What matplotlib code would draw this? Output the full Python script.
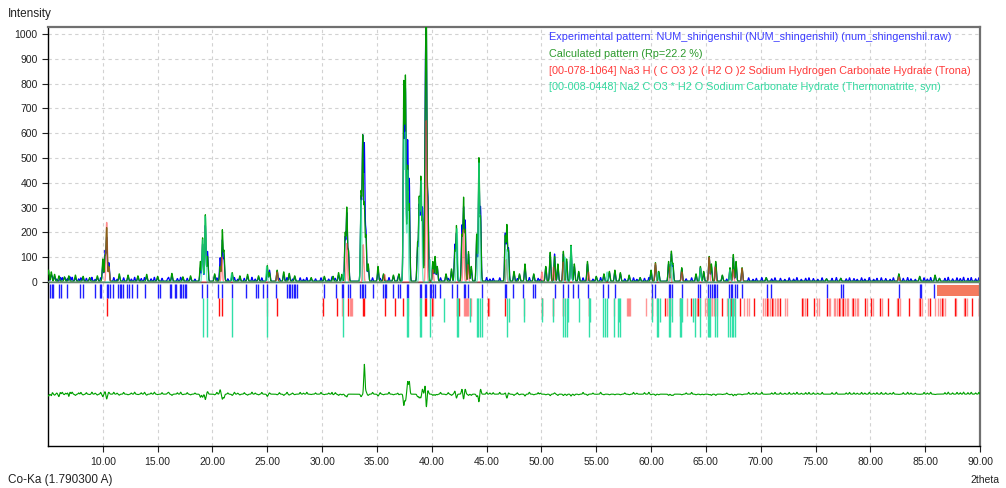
import numpy as np
import matplotlib.pyplot as plt

plt.rcParams['font.family'] = ['Liberation Sans', 'DejaVu Sans']

# calculated pattern (2theta, counts)
calc_peaks = [
    (5.05, 45), (5.3, 38), (5.6, 28), (6.0, 22), (6.5, 18), (6.9, 22), (7.5, 25), (8.2, 20),
    (8.8, 15), (9.5, 22), (10.0, 90), (10.2, 100), (10.35, 214), (10.55, 60),
    (11.5, 30), (12.3, 25), (13.2, 22), (14.0, 28), (15.0, 20), (16.3, 32), (17.3, 18), (18.0, 22),
    (18.9, 80), (19.1, 175), (19.35, 268), (19.55, 100), (20.2, 30),
    (20.7, 60), (20.9, 205), (21.05, 120), (21.8, 35), (22.5, 22), (23.2, 28), (24.2, 22),
    (25.0, 63), (25.2, 35), (25.9, 45), (26.5, 38), (27.0, 32), (27.5, 22), (29.0, 15),
    (30.2, 20), (31.0, 20), (31.5, 35), (31.8, 28), (32.1, 190), (32.25, 292), (32.4, 120),
    (33.55, 350), (33.7, 575), (33.85, 300), (34.0, 180), (34.2, 70), (35.1, 60), (35.6, 30),
    (36.5, 25), (37.0, 30), (37.45, 790), (37.6, 812), (37.8, 460), (37.95, 300),
    (38.7, 150), (38.85, 330), (39.0, 410), (39.15, 250), (39.4, 520), (39.5, 1045), (39.65, 300),
    (40.1, 80), (40.3, 100), (40.5, 60), (41.3, 30), (41.8, 50), (42.1, 120), (42.25, 222),
    (42.75, 180), (42.9, 330), (43.05, 200), (43.35, 120), (43.6, 60),
    (44.1, 190), (44.3, 492), (44.45, 250), (46.7, 180), (46.85, 222), (47.0, 120),
    (47.5, 40), (48.0, 30), (48.5, 70), (49.3, 30), (50.4, 60), (50.8, 117), (51.2, 100),
    (51.5, 70), (52.0, 121), (52.3, 90), (52.7, 145), (53.0, 70), (53.4, 40), (54.2, 80),
    (55.0, 20), (55.7, 30), (56.2, 40), (56.7, 45), (57.2, 35), (58.0, 25), (59.0, 15),
    (60.0, 45), (60.4, 75), (60.7, 40), (61.6, 80), (61.85, 120), (62.0, 70), (62.8, 55),
    (64.1, 30), (64.5, 60), (64.8, 40), (65.3, 100), (65.5, 70), (65.9, 80), (66.5, 25),
    (67.2, 55), (67.5, 108), (67.75, 80), (68.3, 55), (70.5, 15), (76.0, 10), (77.3, 12),
    (82.6, 30), (84.5, 20), (85.9, 25), (86.3, 12),
]

# measured pattern (2theta, counts)
exp_peaks = [
    (5.05, 30), (5.3, 25), (5.6, 20), (6.1, 16), (6.5, 14), (7.0, 18), (7.5, 15), (8.2, 14),
    (8.8, 12), (9.5, 15), (10.0, 70), (10.2, 120), (10.35, 175), (10.55, 75),
    (11.5, 22), (12.3, 20), (13.2, 18), (14.0, 20), (15.0, 16), (16.3, 22), (17.3, 14), (18.0, 16),
    (18.9, 55), (19.1, 150), (19.35, 225), (19.55, 120), (20.2, 25),
    (20.7, 95), (20.9, 165), (21.05, 90), (21.8, 25), (22.5, 16), (23.2, 20), (24.2, 16),
    (25.0, 45), (25.2, 45), (25.9, 40), (26.5, 28), (27.0, 25), (27.5, 18), (29.0, 12),
    (30.2, 16), (31.0, 15), (31.5, 25), (31.8, 22), (32.1, 175), (32.25, 270), (32.4, 120),
    (33.55, 330), (33.7, 570), (33.85, 540), (34.0, 200), (34.2, 60), (35.1, 45), (35.6, 25),
    (36.5, 20), (37.0, 25), (37.45, 700), (37.6, 760), (37.8, 560), (37.95, 400),
    (38.7, 130), (38.85, 300), (39.0, 380), (39.15, 290), (39.4, 600), (39.5, 930), (39.65, 330),
    (40.1, 70), (40.3, 90), (40.5, 55), (41.3, 25), (41.8, 40), (42.1, 145), (42.25, 190),
    (42.75, 220), (42.9, 290), (43.05, 240), (43.35, 110), (43.6, 50),
    (44.1, 170), (44.3, 430), (44.45, 290), (46.7, 190), (46.85, 190), (47.0, 130),
    (47.5, 30), (48.0, 25), (48.5, 55), (49.3, 25), (50.4, 55), (50.8, 105), (51.2, 110),
    (51.5, 60), (52.0, 110), (52.3, 80), (52.7, 130), (53.0, 60), (53.4, 35), (54.2, 70),
    (55.0, 18), (55.7, 25), (56.2, 35), (56.7, 40), (57.2, 30), (58.0, 20), (59.0, 14),
    (60.0, 40), (60.4, 65), (60.7, 35), (61.6, 70), (61.85, 110), (62.0, 60), (62.8, 50),
    (64.1, 25), (64.5, 55), (64.8, 35), (65.3, 95), (65.5, 60), (65.9, 70), (66.5, 22),
    (67.2, 50), (67.5, 95), (67.75, 70), (68.3, 50), (70.5, 14), (76.0, 10), (77.3, 12),
    (82.6, 28), (84.5, 18), (85.9, 22), (86.3, 12),
]

# small humps of the measured background
bg_peaks = [
    (5.4, 14), (5.8, 9), (6.3, 15), (6.6, 8), (6.8, 12), (7.2, 16), (7.8, 10), (8.0, 14),
    (8.5, 12), (9.0, 16), (9.3, 8), (9.8, 14), (11.0, 15), (11.3, 8), (11.9, 14), (12.6, 9),
    (12.9, 16), (13.5, 11), (13.8, 15), (14.4, 10), (14.7, 16), (15.4, 12), (15.9, 9),
    (16.0, 15), (16.8, 11), (17.1, 16), (17.7, 12), (18.4, 9), (20.4, 14), (21.4, 10),
    (22.0, 15), (22.3, 8), (22.9, 12), (23.6, 16), (23.9, 9), (24.5, 14), (26.1, 12),
    (26.8, 15), (27.3, 9), (28.0, 14), (28.3, 8), (28.6, 15), (29.4, 10), (29.9, 14),
    (30.6, 9), (30.9, 15), (31.2, 12), (34.6, 14), (35.3, 12), (36.1, 15), (36.9, 9),
    (40.8, 14), (41.5, 12), (45.0, 15), (45.3, 9), (45.6, 12), (46.2, 14), (47.8, 11),
    (48.9, 15), (49.7, 12), (49.9, 8), (53.8, 14), (54.7, 9), (55.4, 15), (57.6, 10),
    (58.4, 14), (58.7, 8), (59.4, 12), (59.8, 15), (63.2, 10), (63.7, 14), (66.9, 9),
    (68.9, 14), (69.3, 8), (69.6, 12), (70.1, 15), (71.0, 10), (71.3, 14), (71.8, 12),
    (72.2, 8), (72.6, 14), (73.0, 9), (73.3, 15), (73.7, 8), (74.1, 12), (74.4, 14),
    (74.8, 11), (75.2, 8), (75.6, 14), (76.5, 12), (76.9, 15), (77.8, 10), (78.1, 14),
    (78.5, 11), (78.8, 8), (79.2, 14), (79.5, 9), (79.9, 15), (80.3, 8), (80.6, 12),
    (81.0, 14), (81.4, 11), (81.8, 8), (82.1, 14), (83.0, 12), (83.4, 15), (83.7, 10),
    (84.1, 8), (84.9, 14), (85.2, 9), (85.5, 15), (86.8, 12), (87.1, 16), (87.5, 10),
    (87.9, 14), (88.2, 11), (88.5, 16), (88.9, 12), (89.2, 15), (89.6, 10), (89.9, 14),
]

# phase contributions (2theta, counts)
trona_peaks = [
    (10.35, 240), (10.55, 60), (20.85, 100), (25.9, 40), (32.25, 155), (33.75, 150), (35.7, 30),
    (39.5, 650), (40.1, 50), (42.9, 210), (43.3, 70), (46.8, 90), (50.05, 40), (51.1, 60),
    (52.0, 80), (54.3, 40), (60.4, 75), (61.75, 60), (62.8, 40), (65.3, 100), (65.85, 60),
    (67.5, 50), (68.3, 55), (82.6, 20),
]
therm_peaks = [
    (19.1, 170), (19.35, 265), (21.75, 35), (24.95, 63), (31.95, 40), (33.55, 330),
    (37.45, 560), (37.6, 590), (37.8, 450), (38.9, 330), (39.05, 400), (39.85, 90),
    (42.3, 215), (44.3, 480), (46.85, 130), (52.15, 100), (52.7, 145), (56.0, 40),
    (60.6, 40), (61.85, 80), (64.5, 55), (67.2, 50),
]

# peak markers
exp_sticks = [
    5.2, 5.35, 5.5, 6.0, 6.15, 6.7, 7.9, 8.2, 9.3, 9.7, 9.85, 10.35, 10.5, 10.65, 10.9, 11.4,
    11.55, 11.7, 11.85, 12.2, 12.4, 12.7, 13.1, 13.85, 15.05, 15.25, 16.1, 16.25, 16.55, 16.7,
    17.0, 17.15, 17.3, 17.45, 17.6, 19.0, 19.5, 20.5, 20.9, 21.8, 23.1, 24.0, 24.15, 24.6, 24.95,
    25.8, 26.8, 26.95, 27.1, 27.25, 27.4, 27.55, 27.7, 30.2, 31.25, 31.8, 31.95, 32.4, 32.55,
    33.45, 33.6, 33.75, 33.9, 34.65, 35.55, 35.7, 35.85, 36.45, 36.95, 37.1, 37.7, 37.85, 38.9,
    39.05, 39.35, 39.5, 39.8, 39.95, 40.1, 40.25, 40.75, 41.8, 42.3, 42.9, 43.05, 43.35, 44.55,
    46.65, 46.8, 47.45, 48.35, 49.25, 49.4, 51.2, 51.95, 52.4, 52.85, 53.35, 54.25, 55.65, 56.1,
    56.7, 60.05, 60.4, 61.6, 61.75, 61.9, 62.8, 64.3, 64.45, 65.2, 65.4, 65.55, 65.7, 65.85,
    66.0, 67.1, 67.25, 67.4, 67.7, 67.85, 68.3, 70.6, 70.9, 76.05, 77.3, 77.55, 82.6, 84.5,
    84.65, 85.85,
]
trona_sticks = [
    10.35, 20.6, 20.85, 24.95, 25.9, 30.05, 31.4, 31.8, 32.4, 32.55, 32.65, 32.75, 33.7, 33.85,
    35.7, 36.65, 37.35, 37.8, 38.95, 39.4, 39.5, 40.0, 40.1, 42.3, 42.45, 42.95, 43.05, 43.15,
    43.25, 43.35, 43.45, 43.55, 45.1, 45.25, 46.7, 48.4, 50.05, 51.1, 52.0, 54.3, 56.6, 57.8,
    57.9, 58.0, 58.1, 59.5, 60.1, 60.5, 61.3, 61.45, 61.6, 61.75, 62.65, 63.3, 63.6, 64.0,
    64.15, 64.3, 64.5, 64.95, 65.1, 65.25, 65.4, 65.55, 65.7, 65.85, 66.0, 66.45, 66.95, 67.25,
    67.55, 68.15, 68.45, 68.75, 68.9, 69.35, 70.25, 70.4, 70.55, 70.7, 70.85, 71.0, 71.15, 71.3,
    71.45, 71.6, 71.8, 72.2, 72.4, 73.75, 73.9, 74.05, 74.2, 74.9, 75.15, 75.35, 76.05, 76.2,
    76.35, 76.65, 76.8, 76.95, 77.1, 77.25, 77.4, 77.55, 77.7, 77.85, 78.0, 78.3, 78.45, 78.6,
    78.75, 78.9, 79.5, 79.65, 80.1, 80.25, 80.9, 81.05, 81.65, 82.4, 82.55, 82.7, 83.5, 84.4,
    84.55, 84.7, 85.25, 85.4, 85.9, 86.2, 86.35, 86.5, 86.65, 86.8, 87.7, 87.85, 88.5, 88.65,
    88.8, 89.3, 89.95,
]
trona_strong = [
    10.35, 20.6, 20.85, 25.9, 30.05, 31.4, 32.4, 33.7, 33.85, 35.7, 36.65, 37.35, 39.4, 39.5,
    40.0, 42.3, 42.45, 45.1, 46.7, 50.05, 51.1, 52.0, 54.3, 60.1, 61.3, 61.75, 62.65, 63.6,
    64.3, 65.4, 66.45, 67.25, 68.15, 69.35, 70.55, 71.0, 71.8, 73.75, 74.2, 74.9, 76.05, 77.1,
    77.55, 78.45, 79.5, 80.1, 80.9, 81.65, 82.55, 83.5, 84.55, 85.4, 86.5, 87.7, 88.65, 89.3,
    89.95,
]
therm_sticks_long = [
    19.1, 19.5, 21.75, 24.95, 31.95, 37.7, 37.8, 38.9, 39.05, 39.85, 42.3, 42.4, 44.1, 44.25,
    44.4, 44.55, 46.85, 52.0, 52.15, 52.3, 54.3, 55.6, 55.8, 56.0, 56.6, 57.0, 57.2, 60.5,
    60.65, 61.6, 61.75, 62.6, 62.75, 64.0, 64.5, 65.2, 65.3, 65.4, 65.85, 66.0, 67.05, 67.2,
    67.35, 67.5, 67.65,
]
therm_sticks_short = [
    41.1, 43.5, 47.0, 48.4, 50.05, 51.1, 52.45, 53.4, 54.45, 57.1, 60.1, 60.8, 61.9, 62.8,
    63.8,
]
unresolved_band = (86.05, 90.0)

legend_lines = [
    ('Experimental pattern: NUM_shingenshil (NUM_shingenshil) (num_shingenshil.raw)', '#3b3bff'),
    ('Calculated pattern (Rp=22.2 %)', '#2c9a2c'),
    ('[00-078-1064] Na3 H ( C O3 )2 ( H2 O )2 Sodium Hydrogen Carbonate Hydrate (Trona)', '#ff3838'),
    ('[00-008-0448] Na2 C O3 * H2 O Sodium Carbonate Hydrate (Thermonatrite, syn)', '#33d9a0'),
]

x_ticks = np.arange(10, 91, 5)
y_ticks = np.arange(0, 1001, 100)
diff_offset = -452
diff_scale = 0.5


def profile(x, peaks, width=0.055):
    y = np.zeros_like(x)
    for pos, h in peaks:
        y += h * np.exp(-0.5 * ((x - pos) / width) ** 2)
    return y


tt = np.arange(5.0, 90.0, 0.01)
calc = profile(tt, calc_peaks) + 3
exp = profile(tt, exp_peaks) + profile(tt, bg_peaks, 0.045) + 3
trona = profile(tt, trona_peaks)
therm = profile(tt, therm_peaks)
diff = (exp - calc) * diff_scale + diff_offset

fig = plt.figure(figsize=(10.06, 4.88), dpi=100)
ax = fig.add_axes([48 / 1006, 1 - 446 / 488, 932 / 1006, 419 / 488])
ax.set_xlim(5, 90)
ax.set_ylim(-661, 1028)

# grid
for xv in x_ticks[:-1]:
    ax.axvline(xv, color='#d2d2d2', lw=0.8, ls=(0, (3, 3)), zorder=0)
ax.hlines(y_ticks[1:], 5, 90, color='#d2d2d2', lw=0.8, ls=(0, (3, 3)), zorder=0)
ax.axhline(0, color='#555555', lw=1.0, zorder=1)

ax.plot(tt, exp, color='#0000ff', lw=0.9, zorder=2)
ax.plot(tt, calc, color='#009a00', lw=0.9, zorder=3)
ax.plot(tt, trona, color='#ff3030', lw=1.0, alpha=0.55, zorder=4)
ax.plot(tt, therm, color='#20e0a0', lw=1.0, alpha=0.6, zorder=4)
ax.plot(tt, diff, color='#00a000', lw=0.8, zorder=3)

# markers below the pattern
ax.vlines(exp_sticks, -65, -8, color='#2020ff', lw=1.0)
weak = [p for p in trona_sticks if p not in trona_strong]
ax.vlines(weak, -137, -65, color='#ff5050', lw=1.0, alpha=0.6)
ax.vlines(trona_strong, -137, -65, color='#ff1010', lw=1.0)
ax.vlines(therm_sticks_long, -222, -65, color='#30e0a8', lw=1.0)
ax.vlines(therm_sticks_short, -160, -65, color='#30e0a8', lw=1.0)
ax.fill_between(unresolved_band, -56, -12, color='#f47a5e', lw=0)

ax.set_xticks(x_ticks)
ax.set_xticklabels([f'{v:.2f}' for v in x_ticks])
ax.set_yticks(y_ticks)
ax.set_yticklabels([str(v) for v in y_ticks])
ax.tick_params(axis='both', labelsize=7.5, colors='#222222', length=4, width=0.8, direction='out')
ax.tick_params(axis='x', pad=4)

for side in ['left', 'bottom']:
    ax.spines[side].set_color('black')
    ax.spines[side].set_linewidth(1.0)
for side in ['top', 'right']:
    ax.spines[side].set_color('#707070')
    ax.spines[side].set_linewidth(1.6)

for i, (txt, col) in enumerate(legend_lines):
    fig.text(549 / 1006, 1 - (37 + 16.8 * i) / 488, txt, color=col, fontsize=7.8,
             ha='left', va='center')

fig.text(8 / 1006, 1 - 14 / 488, 'Intensity', fontsize=8.5, color='#222222', va='center')
fig.text(8 / 1006, 1 - 480 / 488, 'Co-Ka (1.790300 A)', fontsize=8.5, color='#222222', va='center')
fig.text(970 / 1006, 1 - 480 / 488, '2theta', fontsize=7.5, color='#222222', va='center')

fig.savefig('out.png', dpi=100)
